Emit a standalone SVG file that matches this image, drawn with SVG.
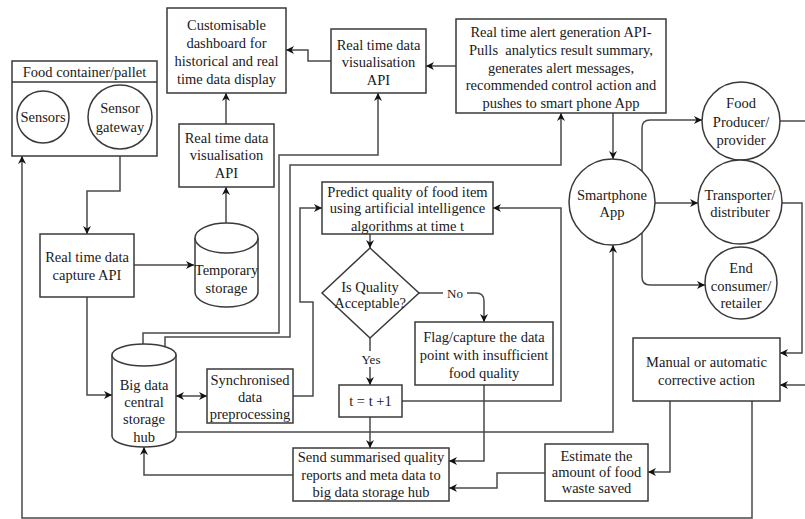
<svg xmlns="http://www.w3.org/2000/svg" width="805" height="519" viewBox="0 0 805 519">
<defs>
<style>
.n{fill:#fff;stroke:#3a3a3a;stroke-width:1.5}
.t{font-family:"Liberation Serif","DejaVu Serif",serif;font-size:14.5px;fill:#1a1a1a;text-anchor:middle}
.c{fill:none;stroke:#4a4a4a;stroke-width:1.5}
.a{marker-end:url(#ah)}
.lb{fill:#fff}
</style>
<marker id="ah" viewBox="0 0 10 10" refX="10" refY="5" markerWidth="9" markerHeight="8" markerUnits="userSpaceOnUse" orient="auto-start-reverse">
<path d="M0,0 L10,5 L0,10 L3,5 z" fill="#111"/>
</marker>
</defs>
<rect width="805" height="519" fill="#fff"/>

<g id="connectors">
<path class="c a" d="M69,117 H88"/>
<path class="c a" d="M120,149 V191 H87 V234"/>
<path class="c a" d="M134,265 H194"/>
<path class="c a" d="M226,223 V187"/>
<path class="c a" d="M226,124 V93"/>
<path class="c a" d="M331,61 H308 V50 H286"/>
<path class="c a" d="M456,66 H426"/>
<path class="c a" d="M613,113 V159"/>
<path class="c a" d="M642,171 V128 Q642,120 650,120 H702"/>
<path class="c a" d="M655,203 H698"/>
<path class="c a" d="M642,233 V277 Q642,285 650,285 H705"/>
<path class="c a" d="M780,121 H812 V385 H780"/>
<path class="c a" d="M782,203 H802 V353 H780"/>
<path class="c a" d="M670,401 V472 H648"/>
<path class="c a" d="M752,401 V518 H22 V156"/>
<path class="c a" d="M545,473 H497 V488 H449"/>
<path class="c a" d="M484,385 V461 H449"/>
<path class="c a" d="M370,417 V448"/>
<path class="c a" d="M402,401 H561 V208 H493"/>
<path class="c a" d="M370,338 V385"/>
<path class="c a" d="M419,293 H476 Q484,293 484,301 V322"/>
<path class="c a" d="M370,234 V248"/>
<path class="c a" d="M87,297 V395 H112"/>
<path class="c a" d="M176,396 H207" marker-start="url(#ah)"/>
<path class="c a" d="M293,396 H313 V302 H300 V208 H322"/>
<path class="c a" d="M176,432 H613 V245"/>
<path class="c a" d="M293,475 H144 V447"/>
<path class="c a" d="M143,344 V333 H279 V155 H378 V93"/>
<path class="c a" d="M165,347 V337 H290 V165 H561 V113"/>
<rect class="lb" x="443" y="285" width="24" height="16"/>
<text class="t" x="455" y="298" style="font-size:13px">No</text>
<rect class="lb" x="358" y="351" width="26" height="16"/>
<text class="t" x="371" y="364" style="font-size:13px">Yes</text>
</g>

<g id="food-container">
<rect class="n" x="12" y="61" width="145" height="95"/>
<line x1="12" y1="82" x2="157" y2="82" stroke="#3a3a3a" stroke-width="1.5"/>
<text class="t" x="84.5" y="77">Food container/pallet</text>
</g>
<g id="sensors">
<circle class="n" cx="43" cy="117" r="26"/>
<text class="t" x="43" y="122">Sensors</text>
</g>
<g id="sensor-gateway">
<circle class="n" cx="120" cy="117" r="32"/>
<text class="t" x="120" y="113">Sensor</text>
<text class="t" x="120" y="132">gateway</text>
</g>
<g id="dashboard">
<rect class="n" x="167" y="8" width="119" height="85"/>
<text class="t" x="226.5" y="30">Customisable</text>
<text class="t" x="226.5" y="48">dashboard for</text>
<text class="t" x="226.5" y="66">historical and real</text>
<text class="t" x="226.5" y="84">time data display</text>
</g>
<g id="viz-api-lower">
<rect class="n" x="179" y="124" width="95" height="63"/>
<text class="t" x="226.5" y="143">Real time data</text>
<text class="t" x="226.5" y="160">visualisation</text>
<text class="t" x="226.5" y="178">API</text>
</g>
<g id="viz-api-upper">
<rect class="n" x="331" y="29" width="95" height="64"/>
<text class="t" x="378.5" y="50">Real time data</text>
<text class="t" x="378.5" y="67">visualisation</text>
<text class="t" x="378.5" y="85">API</text>
</g>
<g id="alert-api">
<rect class="n" x="456" y="19" width="210" height="94"/>
<text class="t" x="561" y="37">Real time alert generation API-</text>
<text class="t" x="561" y="55" xml:space="preserve">Pulls  analytics result summary,</text>
<text class="t" x="561" y="73">generates alert messages,</text>
<text class="t" x="561" y="90">recommended control action and</text>
<text class="t" x="561" y="108">pushes to smart phone App</text>
</g>
<g id="smartphone">
<circle class="n" cx="612" cy="202" r="43"/>
<text class="t" x="612" y="200">Smartphone</text>
<text class="t" x="612" y="217">App</text>
</g>
<g id="producer">
<circle class="n" cx="741" cy="121" r="39"/>
<text class="t" x="741" y="108">Food</text>
<text class="t" x="741" y="127">Producer/</text>
<text class="t" x="741" y="145">provider</text>
</g>
<g id="transporter">
<circle class="n" cx="740" cy="202" r="42"/>
<text class="t" x="740" y="200">Transporter/</text>
<text class="t" x="740" y="217">distributer</text>
</g>
<g id="consumer">
<circle class="n" cx="741" cy="283" r="36"/>
<text class="t" x="741" y="273">End</text>
<text class="t" x="741" y="291">consumer/</text>
<text class="t" x="741" y="308">retailer</text>
</g>
<g id="capture-api">
<rect class="n" x="40" y="234" width="94" height="63"/>
<text class="t" x="87" y="262">Real time data</text>
<text class="t" x="87" y="280">capture API</text>
</g>
<g id="temp-storage">
<path class="n" d="M195,238 A31.5,15 0 0 1 258,238 V292 A31.5,15 0 0 1 195,292 Z"/>
<path class="n" d="M195,238 A31.5,15 0 0 0 258,238" fill="none"/>
<text class="t" x="226.5" y="275">Temporary</text>
<text class="t" x="226.5" y="293">storage</text>
</g>
<g id="big-data-hub">
<path class="n" d="M112,355 A32,11 0 0 1 176,355 V436 A32,11 0 0 1 112,436 Z"/>
<path class="n" d="M112,355 A32,11 0 0 0 176,355" fill="none"/>
<text class="t" x="144" y="390">Big data</text>
<text class="t" x="144" y="407">central</text>
<text class="t" x="144" y="424">storage</text>
<text class="t" x="144" y="442">hub</text>
</g>
<g id="sync">
<rect class="n" x="207" y="369" width="86" height="54"/>
<text class="t" x="250" y="385">Synchronised</text>
<text class="t" x="250" y="402">data</text>
<text class="t" x="250" y="419">preprocessing</text>
</g>
<g id="predict">
<rect class="n" x="322" y="182" width="171" height="52"/>
<text class="t" x="407.5" y="197">Predict quality of food item</text>
<text class="t" x="407.5" y="213">using artificial intelligence</text>
<text class="t" x="407.5" y="231">algorithms at time t</text>
</g>
<g id="decision">
<path class="n" d="M370,248 L419,293 L370,338 L322,293 Z"/>
<text class="t" x="370" y="292">Is Quality</text>
<text class="t" x="370" y="308">Acceptable?</text>
</g>
<g id="flag">
<rect class="n" x="415" y="322" width="138" height="63"/>
<text class="t" x="484" y="342">Flag/capture the data</text>
<text class="t" x="484" y="360">point with insufficient</text>
<text class="t" x="484" y="378">food quality</text>
</g>
<g id="increment">
<rect class="n" x="339" y="385" width="63" height="32"/>
<text class="t" x="370.5" y="406">t = t +1</text>
</g>
<g id="send">
<rect class="n" x="293" y="448" width="156" height="53"/>
<text class="t" x="371" y="462">Send summarised quality</text>
<text class="t" x="371" y="480">reports and meta data to</text>
<text class="t" x="371" y="497">big data storage hub</text>
</g>
<g id="estimate">
<rect class="n" x="545" y="444" width="103" height="57"/>
<text class="t" x="596.5" y="461">Estimate the</text>
<text class="t" x="596.5" y="477">amount of food</text>
<text class="t" x="596.5" y="493">waste saved</text>
</g>
<g id="corrective">
<rect class="n" x="633" y="338" width="147" height="63"/>
<text class="t" x="706.5" y="367">Manual or automatic</text>
<text class="t" x="706.5" y="385">corrective action</text>
</g>
</svg>
